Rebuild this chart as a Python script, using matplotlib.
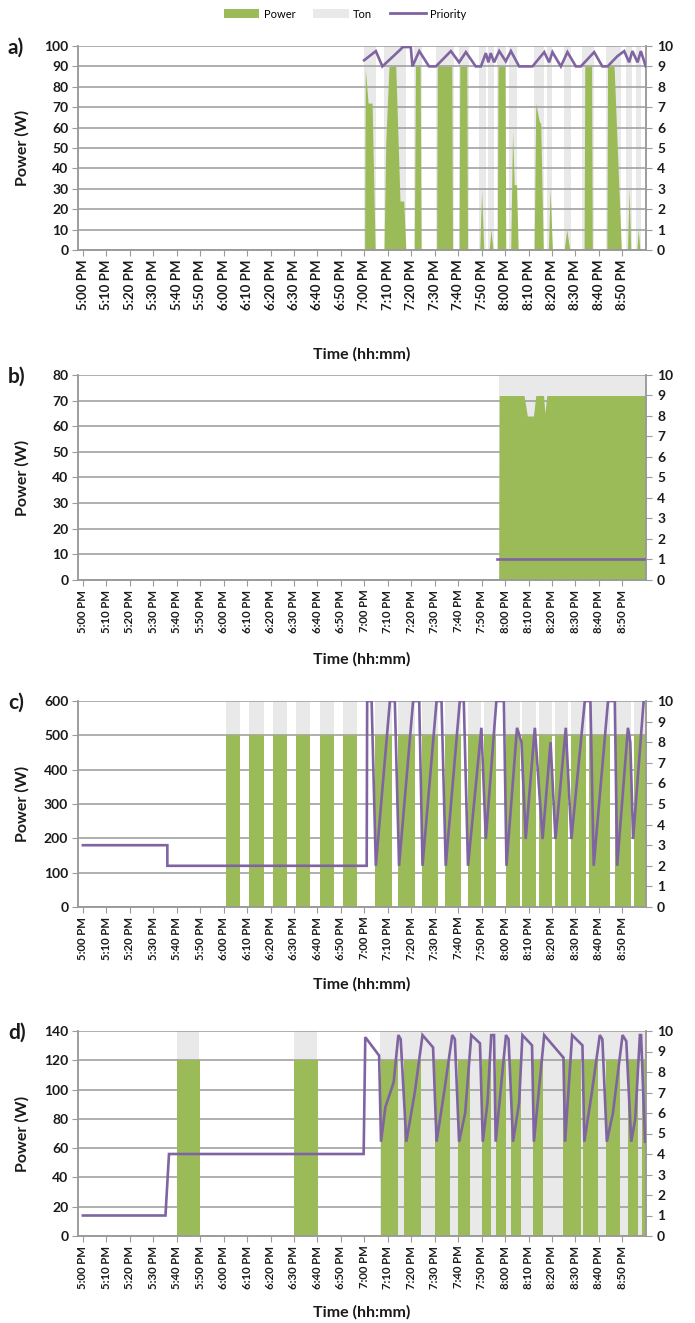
import matplotlib
matplotlib.use("Agg")
import matplotlib.pyplot as plt
from matplotlib.patches import Patch
from matplotlib.lines import Line2D

# ---------------- data (minutes after 5:00 PM) ----------------
tick_minutes = [0, 10, 20, 30, 40, 50, 60, 70, 80, 90, 100, 110, 120, 130, 140,
                150, 160, 170, 180, 190, 200, 210, 220, 230]
tick_labels = ["5:00 PM", "5:10 PM", "5:20 PM", "5:30 PM", "5:40 PM", "5:50 PM",
               "6:00 PM", "6:10 PM", "6:20 PM", "6:30 PM", "6:40 PM", "6:50 PM",
               "7:00 PM", "7:10 PM", "7:20 PM", "7:30 PM", "7:40 PM", "7:50 PM",
               "8:00 PM", "8:10 PM", "8:20 PM", "8:30 PM", "8:40 PM", "8:50 PM"]

# panel a
a_power_t = [120.1, 120.4, 121.6, 123.3, 124.6,
             128.4, 129.1, 130.5, 133.4, 135.2, 136.8, 137.7,
             141.3, 141.8, 143.8, 144.2,
             150.8, 151.1, 157.3, 157.6,
             160.4, 160.7, 163.7, 164.0,
             169.2, 170.0, 170.9,
             173.2, 174.0, 174.9,
             176.7, 177.0, 180.0, 180.3,
             182.4, 183.2, 183.9, 184.9, 185.6,
             192.4, 193.1, 194.6, 195.2, 196.3,
             198.5, 199.2, 200.2,
             205.2, 206.3, 207.6,
             213.7, 214.0, 216.9, 217.2,
             223.4, 223.7, 226.5, 229.6,
             232.2, 232.9, 233.6,
             236.2, 236.8, 237.5]
a_power_w = [0, 89, 72, 72, 0,
             0, 52, 90, 90, 24, 24, 0,
             0, 90, 90, 0,
             0, 90, 90, 0,
             0, 90, 90, 0,
             0, 29, 0,
             0, 10, 0,
             0, 90, 90, 0,
             0, 58, 32, 32, 0,
             0, 72, 63, 62, 0,
             0, 30, 0,
             0, 10, 0,
             0, 90, 90, 0,
             0, 90, 90, 0,
             0, 30, 0,
             0, 10, 0]
a_ton_on = [120.0, 128.4, 141.2, 150.5, 160.4, 168.9, 172.9, 176.7, 181.7, 192.4,
            198.0, 205.2, 213.0, 223.0, 231.5, 235.7]
a_ton_off = [124.8, 137.7, 144.5, 158.3, 164.7, 171.8, 175.3, 180.3, 185.3, 196.6,
             200.2, 208.0, 218.0, 229.3, 234.0, 237.9]
a_prio_t = [119.9, 124.9, 127.7, 135.6, 136.3, 139.8, 140.5, 143.4, 147.6, 150.5,
            156.9, 160.4, 163.3, 167.5, 169.7, 171.8, 172.9, 173.9, 175.3, 177.5,
            180.3, 182.5, 186.0, 191.7, 196.7, 198.8, 200.2, 203.8, 206.6, 210.2,
            212.3, 218.0, 221.5, 223.7, 227.9, 230.8, 232.9, 234.3, 236.5, 237.9, 240.0]
a_prio_v = [9.3, 9.75, 9.0, 9.85, 9.95, 9.95, 9.0, 9.75, 9.0, 9.0,
            9.75, 9.2, 9.7, 9.0, 9.0, 9.65, 9.2, 9.65, 9.2, 9.75,
            9.25, 9.75, 9.0, 9.0, 9.7, 9.2, 9.7, 9.0, 9.7, 9.0,
            9.0, 9.7, 9.0, 9.0, 9.5, 9.75, 9.2, 9.75, 9.2, 9.75, 9.0]

# panel b
b_power_t = [177.3, 177.5, 188.1, 189.5, 192.1, 193.1, 196.4, 197.0, 197.8, 240.0]
b_power_w = [0, 72, 72, 64, 64, 72, 72, 65, 72, 72]
b_ton_on = [177.3]
b_ton_off = [240.0]
b_prio_t = [176.7, 240.0]
b_prio_v = [1, 1]

# panel c
c_on = [61, 71, 81, 91, 101, 111, 124.5, 134.4, 144.4, 154.3, 164.2, 170.9,
        180.6, 187.4, 194.5, 201.2, 208.3, 216.0, 226.8, 235.1]
c_off = [67, 77, 87, 97, 107, 117, 131.6, 141.5, 151.5, 161.4, 169.9, 176.3,
         186.3, 193.3, 200.2, 206.9, 214.4, 224.9, 233.9, 240.0]
c_power_level = 500
c_prio_t = [0, 36, 36, 121, 121.2, 123.1, 124.9, 130.9, 133, 134.8, 140.8, 143.4,
            144.8, 150.8, 152.9, 154.7, 160.7, 162.4, 164.2, 169.9, 171.8, 176.3,
            179.5, 180.6, 185.1, 187, 188.8, 192.7, 196, 199.4, 201.5, 205.9, 208.3,
            214, 216.4, 217.8, 223.9, 226.8, 227.8, 232.4, 233.4, 234.6, 239.1]
c_prio_v = [3, 3, 2, 2, 10, 10, 2, 10, 10, 2, 10, 10,
            2, 10, 10, 2, 10, 10, 2, 8.7, 3.3, 10,
            10, 2, 8.7, 8.0, 3.3, 8.7, 3.3, 8.0, 3.3, 8.7, 3.3,
            10, 10, 2, 10, 10, 2, 8.7, 8.0, 3.3, 10]

# panel d
d_on = [40, 90, 127, 137, 150, 160, 170, 176.2, 182.7, 192, 204.8, 213.3, 223.2,
        232.4, 238.6]
d_off = [50, 100.4, 134.3, 144.1, 156.6, 165, 174.1, 180.2, 187, 196.2, 212.5,
         219.7, 228.9, 236.7, 240]
d_power_level = 120
d_ton_on = [40, 90, 126.6]
d_ton_off = [49.5, 100, 240]
d_prio_t = [0, 35.2, 36.7, 119.7, 120.4, 126.3, 127.1, 129, 132.5, 134.5, 135.5,
            137.9, 141.5, 144.8, 149.3, 150.8, 154, 157.5, 158.6, 160.4, 163, 165.6,
            169.3, 170.5, 172.5, 174.1, 175.3, 176, 180.4, 181.5, 183.4, 186, 187.4,
            191.5, 192.3, 196.7, 204.9, 205.6, 208.6, 213, 213.8, 217, 220.4, 221.5,
            223.4, 226, 230.1, 231.7, 233.8, 235.5, 237.5, 238, 239.7]
d_prio_v = [1, 1, 4, 4, 9.7, 8.8, 4.6, 6.3, 7.5, 9.8, 9.6,
            4.6, 7.0, 9.8, 9.2, 4.6, 7.0, 9.8, 9.6, 4.6, 6.0, 9.8,
            9.4, 4.6, 6.5, 9.8, 9.8, 4.6, 9.8, 9.6, 4.6, 6.5, 9.8,
            9.3, 4.6, 9.8, 8.7, 4.6, 9.8, 9.3, 4.6, 7.0, 9.8, 9.6,
            4.6, 6.0, 9.8, 9.5, 4.6, 5.7, 9.8, 9.8, 4.6]

left_max = [100, 80, 600, 140]
left_step = [10, 10, 100, 20]
panel_letters = ["a)", "b)", "c)", "d)"]

# ---------------- style ----------------
GREEN = "#9bbb59"
GRAY = "#e9e9e9"
PURPLE = "#8064a2"
GRID = "#9a9a9a"
TXT = "#1a1a1a"
plt.rcParams["font.family"] = ["Lato", "DejaVu Sans"]

W, H = 695, 1323
fig = plt.figure(figsize=(W / 100, H / 100), dpi=100)

L_PX, R_PX = 78, 646
tops = [46, 375, 701, 1031]
bots = [250, 580, 907, 1236]
xlabel_off = [97, 72, 70, 69]
xtick_fs = [9.5, 8.2, 8.2, 8.2]


def intervals_to_xy(on, off, level):
    xs, ys = [], []
    for s, e in zip(on, off):
        xs += [s, s, e, e]
        ys += [0, level, level, 0]
    return xs, ys


for i in range(4):
    top, bot = tops[i], bots[i]
    ax = fig.add_axes([L_PX / W, 1 - bot / H, (R_PX - L_PX) / W, (bot - top) / H])
    ax2 = ax.twinx()
    ymax = left_max[i]

    if i == 0:
        tx, ty = intervals_to_xy(a_ton_on, a_ton_off, ymax)
        px, py = a_power_t, a_power_w
        qt, qv = a_prio_t, a_prio_v
    elif i == 1:
        tx, ty = intervals_to_xy(b_ton_on, b_ton_off, ymax)
        px, py = b_power_t, b_power_w
        qt, qv = b_prio_t, b_prio_v
    elif i == 2:
        tx, ty = intervals_to_xy(c_on, c_off, ymax)
        px, py = intervals_to_xy(c_on, c_off, c_power_level)
        qt, qv = c_prio_t, c_prio_v
    else:
        tx, ty = intervals_to_xy(d_ton_on, d_ton_off, ymax)
        px, py = intervals_to_xy(d_on, d_off, d_power_level)
        qt, qv = d_prio_t, d_prio_v

    ax.fill_between(tx, 0, ty, color=GRAY, lw=0, zorder=1)
    ax.fill_between(px, 0, py, color=GREEN, lw=0, zorder=2)
    ax2.plot(qt, qv, color=PURPLE, lw=1.9, solid_joinstyle="miter", zorder=3)

    ax.set_xlim(-2.1, 240.1)
    ax.set_ylim(0, ymax)
    ax2.set_ylim(0, 10)
    ax.set_yticks(list(range(0, ymax + 1, left_step[i])))
    ax2.set_yticks(list(range(0, 11)))
    ax.set_xticks(tick_minutes)
    ax.set_xticklabels(tick_labels, rotation=90, fontsize=xtick_fs[i],
                       fontweight="bold", color=TXT)
    ax.set_axisbelow("line")
    ax.yaxis.grid(True, color=GRID, lw=1.1)
    ax.xaxis.grid(False)
    for lab in ax.get_yticklabels():
        lab.set_fontsize(10)
        lab.set_fontweight("bold")
        lab.set_color(TXT)
    for lab in ax2.get_yticklabels():
        lab.set_fontsize(10)
        lab.set_fontweight("bold")
        lab.set_color(TXT)
    ax.tick_params(axis="y", length=4, color=GRID, pad=3)
    ax2.tick_params(axis="y", length=4, color=GRID, pad=4)
    ax.tick_params(axis="x", length=4, color=GRID, pad=3)
    for a_ in (ax, ax2):
        for sp in a_.spines.values():
            sp.set_color(GRID)
            sp.set_linewidth(1.1)
        a_.spines["top"].set_visible(False)
    ax.set_ylabel("Power (W)", fontsize=11.5, fontweight="bold", color=TXT)
    ax.yaxis.set_label_coords((30 - L_PX) / (R_PX - L_PX), 0.5)
    ax.set_xlabel("Time (hh:mm)", fontsize=11.5, fontweight="bold", color=TXT)
    ax.xaxis.set_label_coords(0.5, -xlabel_off[i] / (bot - top))
    fig.text(8 / W, 1 - (top + 2) / H, panel_letters[i], fontsize=15,
             fontweight="bold", color=TXT, ha="left", va="center")

handles = [Patch(facecolor=GREEN, edgecolor="none", label="Power"),
           Patch(facecolor=GRAY, edgecolor="none", label="Ton"),
           Line2D([0], [0], color=PURPLE, lw=2, label="Priority")]
fig.legend(handles=handles, loc="center", bbox_to_anchor=(345 / W, 1 - 14 / H),
           ncol=3, frameon=False, fontsize=8, handlelength=3.2, handleheight=0.8,
           columnspacing=1.6, handletextpad=0.4)

fig.savefig("out.png", dpi=100)
